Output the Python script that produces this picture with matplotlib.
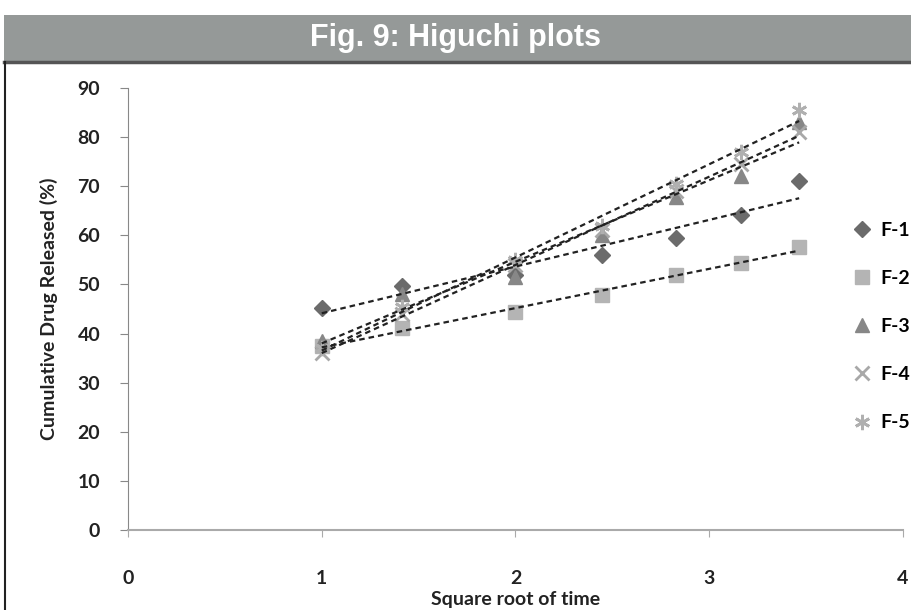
import numpy as np
import matplotlib
matplotlib.use("Agg")
from matplotlib import pyplot as plt
from matplotlib.patches import Rectangle
from matplotlib.lines import Line2D

# square root of time (t = 1, 2, 4, 6, 8, 10, 12)
sqrt_time = [1.0, 1.414, 2.0, 2.449, 2.828, 3.162, 3.464]

f1 = [45.2, 49.6, 52.0, 56.0, 59.5, 64.2, 71.0]
f2 = [37.5, 41.1, 44.4, 47.9, 51.9, 54.4, 57.6]
f3 = [38.5, 48.0, 51.5, 60.0, 67.8, 72.0, 83.0]
f4 = [36.0, 44.0, 54.0, 61.0, 69.0, 74.5, 81.0]
f5 = [37.0, 45.5, 55.0, 62.0, 70.5, 77.0, 85.5]

series_names = ['F-1', 'F-2', 'F-3', 'F-4', 'F-5']
x_ticks = [0, 1, 2, 3, 4]
y_ticks = [0, 10, 20, 30, 40, 50, 60, 70, 80, 90]

series_all = [f1, f2, f3, f4, f5]
markers = ['D', 's', '^', 'x', (6, 2, 0)]
colors = ['#6b6b6b', '#b4b4b4', '#878787', '#a8a8a8', '#b0b0b0']
sizes = [8, 10, 10, 10, 11]

plt.rcParams['font.family'] = ['Lato', 'DejaVu Sans']

fig = plt.figure(figsize=(9.12, 6.1), dpi=100)

# title banner
fig.patches.append(Rectangle((4/912, 1-62/610), 908/912, 47/610, transform=fig.transFigure,
	facecolor='#959998', edgecolor='none', zorder=0))
fig.lines.append(Line2D([4/912, 1], [1-62/610, 1-62/610], transform=fig.transFigure,
	color='#555555', lw=2.5))
fig.lines.append(Line2D([5/912, 5/912], [0, 1-62/610], transform=fig.transFigure,
	color='#222222', lw=1.5))
fig.text(0.5, 1-38/610, 'Fig. 9: Higuchi plots', ha='center', va='center', color='white',
	fontsize=22, fontweight='bold', family=['Liberation Sans', 'DejaVu Sans'])

ax = fig.add_axes([128/912, 1-530/610, 775/912, 442/610])
x_arr = np.array(sqrt_time)
for ii in range(len(series_all)):
	y_arr = np.array(series_all[ii])
	ax.plot(x_arr, y_arr, linestyle='none', marker=markers[ii], color=colors[ii],
		markersize=sizes[ii], markeredgewidth=2 if ii >= 3 else 1, label=series_names[ii], zorder=3)
	slope, intercept = np.polyfit(x_arr, y_arr, 1)
	ax.plot([x_arr[0], x_arr[-1]], [slope*x_arr[0]+intercept, slope*x_arr[-1]+intercept],
		linestyle=(0, (2.5, 1.8)), color='#222222', lw=1.6, zorder=4)

ax.set_xlim(0, 4)
ax.set_ylim(0, 90)
ax.set_xticks(x_ticks)
ax.set_yticks(y_ticks)
for side in ['top', 'right']:
	ax.spines[side].set_visible(False)
ax.spines['left'].set_color('#888888')
ax.spines['bottom'].set_color('#aaaaaa')
ax.spines['bottom'].set_linewidth(1.5)
ax.tick_params(axis='y', length=6, color='#888888', labelsize=14, pad=14, labelcolor='#222222')
ax.tick_params(axis='x', length=5, color='#aaaaaa', labelsize=14, pad=24, labelcolor='#222222')
for lab in ax.get_xticklabels() + ax.get_yticklabels():
	lab.set_fontweight('bold')
ax.set_ylabel('Cumulative Drug Released (%)', fontsize=14, fontweight='bold', color='#222222', labelpad=14)
ax.set_xlabel('Square root of time', fontsize=14, fontweight='bold', color='#222222', labelpad=3)

leg = ax.legend(loc='center left', bbox_to_anchor=(0.91, 0.46), frameon=False, fontsize=14,
	labelspacing=1.6, handletextpad=0.3, handlelength=1.2)
for txt in leg.get_texts():
	txt.set_fontweight('bold')

fig.savefig('out.png', dpi=100)
